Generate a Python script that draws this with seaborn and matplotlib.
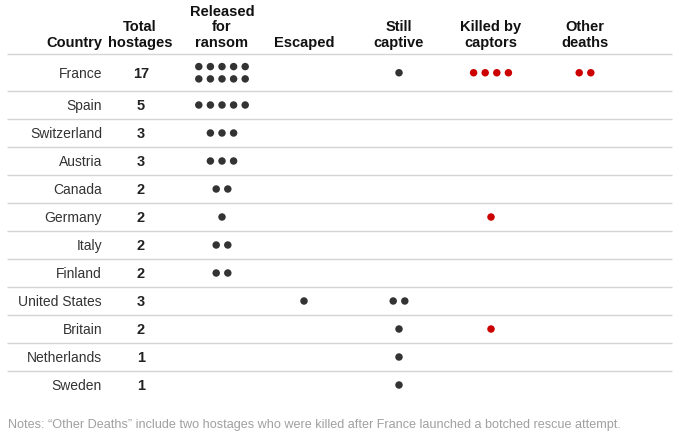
import numpy as np
import pandas as pd
import matplotlib
matplotlib.use('Agg')
import matplotlib.pyplot as plt
import seaborn as sns

countries = ['France', 'Spain', 'Switzerland', 'Austria', 'Canada', 'Germany',
             'Italy', 'Finland', 'United States', 'Britain', 'Netherlands', 'Sweden']
total_hostages = [17, 5, 3, 3, 2, 2, 2, 2, 3, 2, 1, 1]
released = [10, 5, 3, 3, 2, 1, 2, 2, 0, 0, 0, 0]
escaped = [0, 0, 0, 0, 0, 0, 0, 0, 1, 0, 0, 0]
still_captive = [1, 0, 0, 0, 0, 0, 0, 0, 2, 1, 1, 1]
killed = [4, 0, 0, 0, 0, 1, 0, 0, 0, 1, 0, 0]
other_deaths = [2, 0, 0, 0, 0, 0, 0, 0, 0, 0, 0, 0]

headers = ['Released\nfor\nransom', 'Escaped', 'Still\ncaptive', 'Killed by\ncaptors', 'Other\ndeaths']
note = 'Notes: \u201cOther Deaths\u201d include two hostages who were killed after France launched a botched rescue attempt.'

sns.set_theme(style='white')
plt.rcParams['font.family'] = ['Liberation Sans', 'DejaVu Sans']

# layout in pixels
col_x = [222, 304, 399, 491, 585]
kinds = ['dark', 'dark', 'dark', 'red', 'red']
per_row = 5
dot_gap = 11.6
line_gap = 12.3
header_line = 54.5
base_h = 28
extra_h = 8.5

columns = [released, escaped, still_captive, killed, other_deaths]

# row geometry
n_lines = [max(1, int(np.ceil(max(c[i] for c in columns) / per_row))) for i in range(len(countries))]
heights = [base_h + extra_h * (n - 1) for n in n_lines]
bottoms = header_line + np.cumsum(heights)
centers = bottoms - np.array(heights) / 2

recs = []
for j, col in enumerate(columns):
    for i, n in enumerate(col):
        if n == 0:
            continue
        rows = int(np.ceil(n / per_row))
        for k in range(n):
            r, c = divmod(k, per_row)
            in_row = min(per_row, n - r * per_row)
            recs.append({
                'x': col_x[j] + (c - (in_row - 1) / 2) * dot_gap,
                'y': centers[i] + (r - (rows - 1) / 2) * line_gap,
                'kind': kinds[j],
            })
dots = pd.DataFrame(recs)

fig = plt.figure(figsize=(6.76, 4.36), dpi=100)
ax = fig.add_axes([0, 0, 1, 1])

sns.scatterplot(data=dots, x='x', y='y', hue='kind',
                palette={'dark': '#333333', 'red': '#cc0000'},
                s=29, linewidth=0, legend=False, ax=ax)

# separators
ax.hlines([header_line] + list(bottoms[:-1]), 7, 672, color='#d4d4d4', lw=1)

# header
hdr = dict(fontsize=10.5, fontweight='bold', color='#111111', va='baseline',
           linespacing=1.15)
ax.text(102, 47, 'Country', ha='right', **hdr)
ax.text(140, 47, 'Total\nhostages', ha='center', **hdr)
for x, h in zip(col_x, headers):
    ax.text(x, 47, h, ha='center', **hdr)

# country names and totals
for y, name, t in zip(centers, countries, total_hostages):
    ax.text(102, y + 1, name, ha='right', va='center', fontsize=10, color='#333333')
    ax.text(141, y + 1, str(t), ha='center', va='center', fontsize=10.5,
            fontweight='bold', color='#222222')

ax.text(8, 425, note, ha='left', va='center', fontsize=9.1, color='#a0a0a0')

ax.set_xlim(0, 676)
ax.set_ylim(436, 0)
ax.axis('off')

fig.savefig('out.png', dpi=100)
